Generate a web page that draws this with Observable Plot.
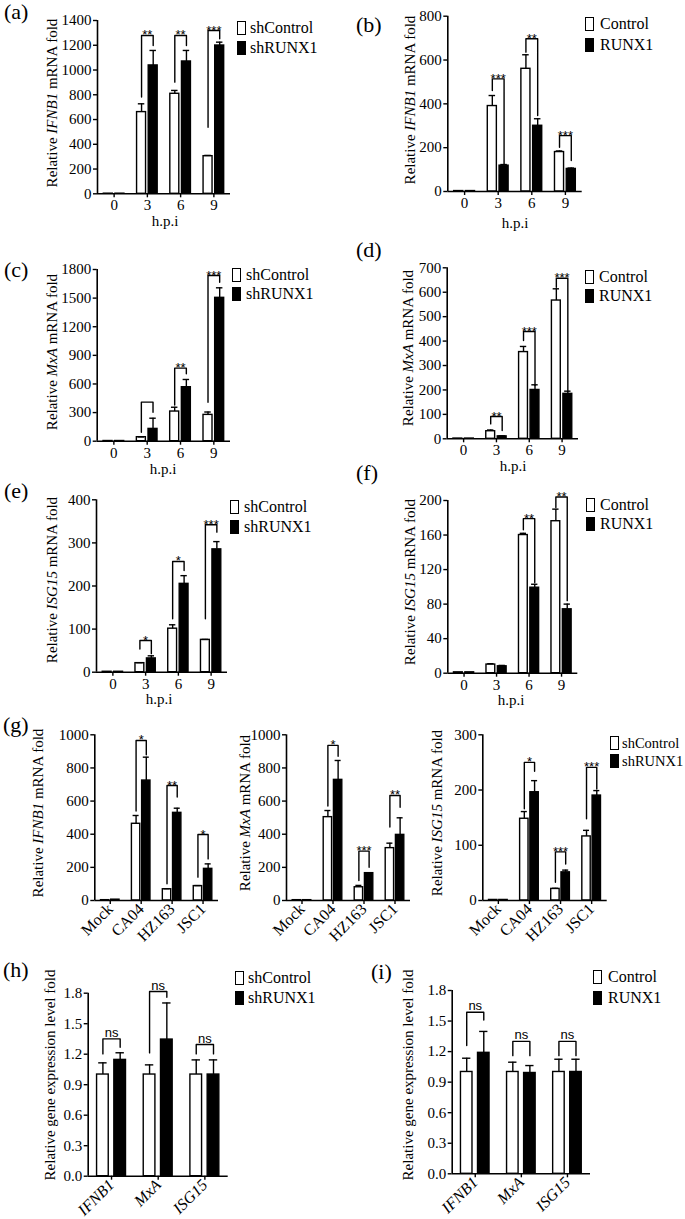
<!DOCTYPE html>
<html><head><meta charset="utf-8">
<script src="https://cdn.jsdelivr.net/npm/d3@7"></script>
<script src="https://cdn.jsdelivr.net/npm/@observablehq/plot@0.6"></script>
<style>
body{margin:0;background:#fff;}
#fig{position:relative;width:685px;height:1219px;overflow:hidden;font-family:"Liberation Serif","Times New Roman",serif;color:#000;background:#fff;}
.t{position:absolute;white-space:nowrap;line-height:1;}
.ylab{position:absolute;white-space:nowrap;font-size:15px;line-height:1;transform:translate(-50%,-50%) rotate(-90deg);}
.letter{position:absolute;font-size:22px;line-height:1;}
.box{position:absolute;width:9px;height:14px;border:1.4px solid #000;box-sizing:border-box;}
</style>
</head><body><div id="fig"></div>
<script>
// ---------- categories ----------
const hpi = ["0", "3", "6", "9"];
const strains = ["Mock", "CA04", "HZ163", "JSC1"];
const genes = ["IFNB1", "MxA", "ISG15"];

// ---------- (a) IFNB1, shControl / shRUNX1 ----------
const aCtrl = [1, 660, 808, 304];
const aCtrlErr = [0, 67, 27, 6];
const aTrt = [1, 1037, 1069, 1198];
const aTrtErr = [0, 121, 89, 27];
const aSigGroup = [1, 2, 3];
const aSigLabel = ["**", "**", "***"];
const aSigTop = [1279, 1279, 1319];
const aSigLeft = [781, 902, 538];
const aSigRight = [1198, 1198, 1252];

// ---------- (b) IFNB1, Control / RUNX1 ----------
const bCtrl = [2, 390, 560, 180];
const bCtrlErr = [0, 48, 64, 5];
const bTrt = [2, 118, 300, 103];
const bTrtErr = [0, 5, 32, 4];
const bSigGroup = [1, 2, 3];
const bSigLabel = ["***", "**", "***"];
const bSigTop = [514, 697, 255];
const bSigLeft = [461, 636, 202];
const bSigRight = [126, 347, 141];

// ---------- (c) MxA, shControl / shRUNX1 ----------
const cCtrl = [2, 42, 311, 276];
const cCtrlErr = [0, 3, 45, 30];
const cTrt = [2, 129, 566, 1503];
const cTrtErr = [0, 112, 81, 105];
const cSigGroup = [1, 2, 3];
const cSigLabel = ["", "**", "***"];
const cSigTop = [410, 766, 1737];
const cSigLeft = [94, 380, 409];
const cSigRight = [304, 706, 1667];

// ---------- (d) MxA, Control / RUNX1 ----------
const dCtrl = [1, 31, 355, 566];
const dCtrlErr = [0, 5, 23, 48];
const dTrt = [1, 10, 200, 184];
const dTrtErr = [0, 2, 21, 11];
const dSigGroup = [1, 2, 3];
const dSigLabel = ["**", "***", "***"];
const dSigTop = [91, 439, 657];
const dSigLeft = [61, 402, 620];
const dSigRight = [34, 218, 198];

// ---------- (e) ISG15, shControl / shRUNX1 ----------
const eCtrl = [1, 21, 101, 75];
const eCtrlErr = [0, 1, 9, 1];
const eTrt = [1, 32, 205, 285];
const eTrtErr = [0, 6, 19, 18];
const eSigGroup = [1, 2, 3];
const eSigLabel = ["*", "*", "***"];
const eSigTop = [73.5, 257, 342];
const eSigLeft = [54, 124, 124];
const eSigRight = [43, 236, 325];

// ---------- (f) ISG15, Control / RUNX1 ----------
const fCtrl = [1, 10, 160, 176];
const fCtrlErr = [0, 1, 2, 14];
const fTrt = [1, 8, 99, 74];
const fTrtErr = [0, 1, 4, 6];
const fSigGroup = [2, 3];
const fSigLabel = ["**", "**"];
const fSigTop = [179, 204];
const fSigLeft = [166, 192];
const fSigRight = [105, 84];

// ---------- (g) strains, shControl / shRUNX1 ----------
const g1Ctrl = [2, 463, 68, 87];
const g1CtrlErr = [0, 50, 3, 3];
const g1Trt = [5, 724, 529, 191];
const g1TrtErr = [0, 141, 28, 30];
const g1SigGroup = [1, 2, 3];
const g1SigLabel = ["*", "**", "*"];
const g1SigTop = [966, 694, 398];
const g1SigLeft = [540, 101, 141];
const g1SigRight = [880, 624, 251];

const g2Ctrl = [2, 503, 80, 316];
const g2CtrlErr = [0, 40, 11, 30];
const g2Trt = [2, 728, 165, 396];
const g2TrtErr = [0, 117, 2, 103];
const g2SigGroup = [1, 2, 3];
const g2SigLabel = ["*", "***", "**"];
const g2SigTop = [936, 298, 634];
const g2SigLeft = [570, 121, 443];
const g2SigRight = [870, 201, 563];

const g3Ctrl = [1, 148, 21, 116];
const g3CtrlErr = [0, 13, 1, 11];
const g3Trt = [1, 196, 51, 190];
const g3TrtErr = [0, 21, 4, 9];
const g3SigGroup = [1, 2, 3];
const g3SigLabel = ["*", "***", "***"];
const g3SigTop = [250, 88, 241];
const g3SigLeft = [166, 33, 148];
const g3SigRight = [234, 66, 202];

// ---------- (h) genes, shControl / shRUNX1 ----------
const hCtrl = [1.0, 1.0, 1.0];
const hCtrlErr = [0.115, 0.095, 0.144];
const hTrt = [1.144, 1.344, 1.0];
const hTrtErr = [0.07, 0.36, 0.144];
const hSigGroup = [0, 1, 2];
const hSigLabel = ["ns", "ns", "ns"];
const hSigTop = [1.351, 1.816, 1.295];
const hSigLeft = [1.203, 1.213, 1.203];
const hSigRight = [1.269, 1.76, 1.203];

// ---------- (i) genes, Control / RUNX1 ----------
const iCtrl = [1.0, 1.0, 1.0];
const iCtrlErr = [0.135, 0.096, 0.125];
const iTrt = [1.188, 0.99, 1.0];
const iTrtErr = [0.21, 0.073, 0.125];
const iSigGroup = [0, 1, 2];
const iSigLabel = ["ns", "ns", "ns"];
const iSigTop = [1.587, 1.30, 1.30];
const iSigLeft = [1.26, 1.16, 1.16];
const iSigRight = [1.51, 1.16, 1.16];

const shLegend = ["shControl", "shRUNX1"];
const ovLegend = ["Control", "RUNX1"];

// ---------- drawing ----------
const fig = document.getElementById("fig");
const SERIF = '"Liberation Serif","Times New Roman",serif';
const SANS = '"Liberation Sans",Arial,sans-serif';

function addDiv(cls, html, style) {
  const d = document.createElement("div");
  d.className = cls; d.innerHTML = html;
  Object.assign(d.style, style);
  fig.appendChild(d);
  return d;
}

function panel(c) {
  const n = c.cats.length;
  const L = Math.round(c.x0 - 70), T = Math.round(c.yTop - 30);
  const width = Math.round(c.x1 + 8 - L), height = Math.round(c.y0 + 72 - T);
  const mL = c.x0 - L, mT = c.yTop - T, mR = width - (c.x1 - L), mB = height - (c.y0 - T);
  const off = c.off;
  const rows = [];
  c.ctrl.forEach((v, i) => rows.push({i, s: 0, value: v, err: c.ctrlErr[i]}));
  c.trt.forEach((v, i) => rows.push({i, s: 1, value: v, err: c.trtErr[i]}));
  const mid = s => (off[s][0] + off[s][1]) / 2;
  const cx = d => d.i + mid(d.s);
  const capHalf = (off[0][1] - off[0][0]) * 0.36;
  const errRows = rows.filter(d => d.err > 0);
  const br = [];
  c.sigGroup.forEach((g, k) => {
    const xw = g + mid(0), xb = g + mid(1);
    br.push({k, x: xw, y: c.sigLeft[k]}, {k, x: xw, y: c.sigTop[k]},
            {k, x: xb, y: c.sigTop[k]}, {k, x: xb, y: c.sigRight[k]});
  });
  const sig = c.sigGroup.map((g, k) => ({x: g + (mid(0) + mid(1)) / 2, y: c.sigTop[k], label: c.sigLabel[k]}));
  const isNs = c.sigLabel[0] === "ns";
  const sw = 1.4;
  const plot = Plot.plot({
    width, height, marginLeft: mL, marginRight: mR, marginTop: mT, marginBottom: mB,
    x: {domain: [-0.5, n - 0.5]},
    y: {domain: [0, c.ymax]},
    style: {fontFamily: SERIF, fontSize: "15px", color: "#000", background: "transparent", overflow: "visible"},
    marks: [
      Plot.rectY(rows.filter(d => d.s === 0), {x1: d => d.i + off[0][0], x2: d => d.i + off[0][1], y1: 0, y2: "value", fill: "white", stroke: "black", strokeWidth: sw}),
      Plot.rectY(rows.filter(d => d.s === 1), {x1: d => d.i + off[1][0], x2: d => d.i + off[1][1], y1: 0, y2: "value", fill: "black", stroke: "black", strokeWidth: sw}),
      Plot.ruleX(errRows, {x: cx, y1: "value", y2: d => d.value + d.err, stroke: "black", strokeWidth: sw}),
      Plot.ruleY(errRows, {y: d => d.value + d.err, x1: d => cx(d) - capHalf, x2: d => cx(d) + capHalf, stroke: "black", strokeWidth: sw}),
      Plot.line(br, {x: "x", y: "y", z: "k", stroke: "black", strokeWidth: sw}),
      Plot.text(sig, {x: "x", y: "y", text: "label", lineAnchor: "bottom", dy: isNs ? -2 : 4,
        fontFamily: SANS, fontSize: 13, fill: "black"}),
      Plot.ruleY([0], {stroke: "black", strokeWidth: 1.6}),
      Plot.ruleX([-0.5], {y1: 0, y2: c.ymax, stroke: "black", strokeWidth: 1.6}),
      Plot.axisY({ticks: c.yticks, tickFormat: c.yfmt, tickSize: 4, tickPadding: 2, label: null, fontSize: 15, strokeWidth: 1.4}),
      Plot.axisX({ticks: d3.range(n), tickFormat: i => c.cats[i], tickSize: 4, tickPadding: 2,
        tickRotate: c.rotate ? -45 : 0, label: null, fontSize: c.rotate ? 16 : 15, fontStyle: c.italic ? "italic" : "normal", strokeWidth: 1.4})
    ]
  });
  plot.style.position = "absolute";
  plot.style.left = L + "px";
  plot.style.top = T + "px";
  fig.appendChild(plot);

  addDiv("ylab", c.ylab, {left: c.ylabX + "px", top: c.ylabY + "px"});
  if (c.xlab) addDiv("t", c.xlab[0], {left: c.xlab[1] + "px", top: c.xlab[2] + "px", fontSize: "15px", transform: "translate(-50%,-50%)"});
  if (c.letter) addDiv("letter", c.letter[0], {left: c.letter[1] + "px", top: (c.letter[2] - 11) + "px"});
  if (c.legend) {
    const [names, bx, y1, y2, tx, fs] = c.legend;
    const size = fs || 16;
    [y1, y2].forEach((yy, k) => {
      addDiv("box", "", {left: bx + "px", top: (yy - 7) + "px", background: k === 0 ? "white" : "black"});
      addDiv("t", names[k], {left: tx + "px", top: (yy - size / 2) + "px", fontSize: size + "px"});
    });
  }
}

const offHpi = [[-0.31, -0.04], [0.04, 0.31]];
const offStr = [[-0.3, -0.03], [0.03, 0.3]];
const offGene = [[-0.31, -0.06], [0.06, 0.31]];
const fmt0 = d => String(d);
const fmt1 = d => d.toFixed(1);
const lab = g => `Relative <i>${g}</i> mRNA fold`;

panel({x0: 97, x1: 230, y0: 193.3, yTop: 20, ymax: 1400, yticks: d3.range(0, 1401, 200), yfmt: fmt0,
  cats: hpi, off: offHpi, ctrl: aCtrl, ctrlErr: aCtrlErr, trt: aTrt, trtErr: aTrtErr,
  sigGroup: aSigGroup, sigLabel: aSigLabel, sigTop: aSigTop, sigLeft: aSigLeft, sigRight: aSigRight,
  ylab: lab("IFNB1"), ylabX: 52, ylabY: 103, xlab: ["h.p.i", 165, 221], letter: ["(a)", 4, 12],
  legend: [shLegend, 237, 28, 48, 250]});

panel({x0: 447.3, x1: 581.7, y0: 191, yTop: 15.7, ymax: 800, yticks: d3.range(0, 801, 200), yfmt: fmt0,
  cats: hpi, off: offHpi, ctrl: bCtrl, ctrlErr: bCtrlErr, trt: bTrt, trtErr: bTrtErr,
  sigGroup: bSigGroup, sigLabel: bSigLabel, sigTop: bSigTop, sigLeft: bSigLeft, sigRight: bSigRight,
  ylab: lab("IFNB1"), ylabX: 410, ylabY: 100, xlab: ["h.p.i", 515, 223], letter: ["(b)", 356, 25],
  legend: [ovLegend, 585, 24, 45, 600]});

panel({x0: 96.7, x1: 230, y0: 440.7, yTop: 269, ymax: 1800, yticks: d3.range(0, 1801, 300), yfmt: fmt0,
  cats: hpi, off: offHpi, ctrl: cCtrl, ctrlErr: cCtrlErr, trt: cTrt, trtErr: cTrtErr,
  sigGroup: cSigGroup, sigLabel: cSigLabel, sigTop: cSigTop, sigLeft: cSigLeft, sigRight: cSigRight,
  ylab: lab("MxA"), ylabX: 52, ylabY: 352, xlab: ["h.p.i", 163, 469], letter: ["(c)", 4, 270],
  legend: [shLegend, 232, 275, 294, 246]});

panel({x0: 446.7, x1: 578, y0: 438.3, yTop: 267.3, ymax: 700, yticks: d3.range(0, 701, 100), yfmt: fmt0,
  cats: hpi, off: offHpi, ctrl: dCtrl, ctrlErr: dCtrlErr, trt: dTrt, trtErr: dTrtErr,
  sigGroup: dSigGroup, sigLabel: dSigLabel, sigTop: dSigTop, sigLeft: dSigLeft, sigRight: dSigRight,
  ylab: lab("MxA"), ylabX: 408, ylabY: 348, xlab: ["h.p.i", 513, 466], letter: ["(d)", 356, 250],
  legend: [ovLegend, 585, 277, 296, 599]});

panel({x0: 96, x1: 227, y0: 671.7, yTop: 499.3, ymax: 400, yticks: d3.range(0, 401, 100), yfmt: fmt0,
  cats: hpi, off: offHpi, ctrl: eCtrl, ctrlErr: eCtrlErr, trt: eTrt, trtErr: eTrtErr,
  sigGroup: eSigGroup, sigLabel: eSigLabel, sigTop: eSigTop, sigLeft: eSigLeft, sigRight: eSigRight,
  ylab: lab("ISG15"), ylabX: 52, ylabY: 580, xlab: ["h.p.i", 159, 699], letter: ["(e)", 4, 491],
  legend: [shLegend, 230, 507, 527, 244]});

panel({x0: 447.3, x1: 577.3, y0: 672.7, yTop: 500, ymax: 200, yticks: d3.range(0, 201, 40), yfmt: fmt0,
  cats: hpi, off: offHpi, ctrl: fCtrl, ctrlErr: fCtrlErr, trt: fTrt, trtErr: fTrtErr,
  sigGroup: fSigGroup, sigLabel: fSigLabel, sigTop: fSigTop, sigLeft: fSigLeft, sigRight: fSigRight,
  ylab: lab("ISG15"), ylabX: 410, ylabY: 582, xlab: ["h.p.i", 511, 700], letter: ["(f)", 356, 473],
  legend: [ovLegend, 586, 505, 524, 600]});

panel({x0: 94.3, x1: 218, y0: 900, yTop: 734.3, ymax: 1000, yticks: d3.range(0, 1001, 200), yfmt: fmt0,
  cats: strains, off: offStr, rotate: true, ctrl: g1Ctrl, ctrlErr: g1CtrlErr, trt: g1Trt, trtErr: g1TrtErr,
  sigGroup: g1SigGroup, sigLabel: g1SigLabel, sigTop: g1SigTop, sigLeft: g1SigLeft, sigRight: g1SigRight,
  ylab: lab("IFNB1"), ylabX: 38, ylabY: 813, letter: ["(g)", 3, 725]});

panel({x0: 286, x1: 410, y0: 900, yTop: 734.3, ymax: 1000, yticks: d3.range(0, 1001, 200), yfmt: fmt0,
  cats: strains, off: offStr, rotate: true, ctrl: g2Ctrl, ctrlErr: g2CtrlErr, trt: g2Trt, trtErr: g2TrtErr,
  sigGroup: g2SigGroup, sigLabel: g2SigLabel, sigTop: g2SigTop, sigLeft: g2SigLeft, sigRight: g2SigRight,
  ylab: lab("MxA"), ylabX: 245, ylabY: 813});

panel({x0: 482.3, x1: 606.7, y0: 900, yTop: 734.3, ymax: 300, yticks: d3.range(0, 301, 100), yfmt: fmt0,
  cats: strains, off: offStr, rotate: true, ctrl: g3Ctrl, ctrlErr: g3CtrlErr, trt: g3Trt, trtErr: g3TrtErr,
  sigGroup: g3SigGroup, sigLabel: g3SigLabel, sigTop: g3SigTop, sigLeft: g3SigLeft, sigRight: g3SigRight,
  ylab: lab("ISG15"), ylabX: 437, ylabY: 813, legend: [shLegend, 610, 743, 761, 622, 14.5]});

panel({x0: 87.7, x1: 227.7, y0: 1175.7, yTop: 992.7, ymax: 1.8, yticks: d3.range(0, 7).map(k => k * 0.3), yfmt: fmt1,
  cats: genes, off: offGene, rotate: true, italic: true, ctrl: hCtrl, ctrlErr: hCtrlErr, trt: hTrt, trtErr: hTrtErr,
  sigGroup: hSigGroup, sigLabel: hSigLabel, sigTop: hSigTop, sigLeft: hSigLeft, sigRight: hSigRight,
  ylab: "Relative gene expression level fold", ylabX: 50, ylabY: 1075, letter: ["(h)", 3, 970],
  legend: [shLegend, 235, 978, 998, 248]});

panel({x0: 451.7, x1: 590, y0: 1173.3, yTop: 990, ymax: 1.8, yticks: d3.range(0, 7).map(k => k * 0.3), yfmt: fmt1,
  cats: genes, off: offGene, rotate: true, italic: true, ctrl: iCtrl, ctrlErr: iCtrlErr, trt: iTrt, trtErr: iTrtErr,
  sigGroup: iSigGroup, sigLabel: iSigLabel, sigTop: iSigTop, sigLeft: iSigLeft, sigRight: iSigRight,
  ylab: "Relative gene expression level fold", ylabX: 408, ylabY: 1075, letter: ["(i)", 371, 972],
  legend: [ovLegend, 593, 977, 998, 608]});
</script>
</body></html>
